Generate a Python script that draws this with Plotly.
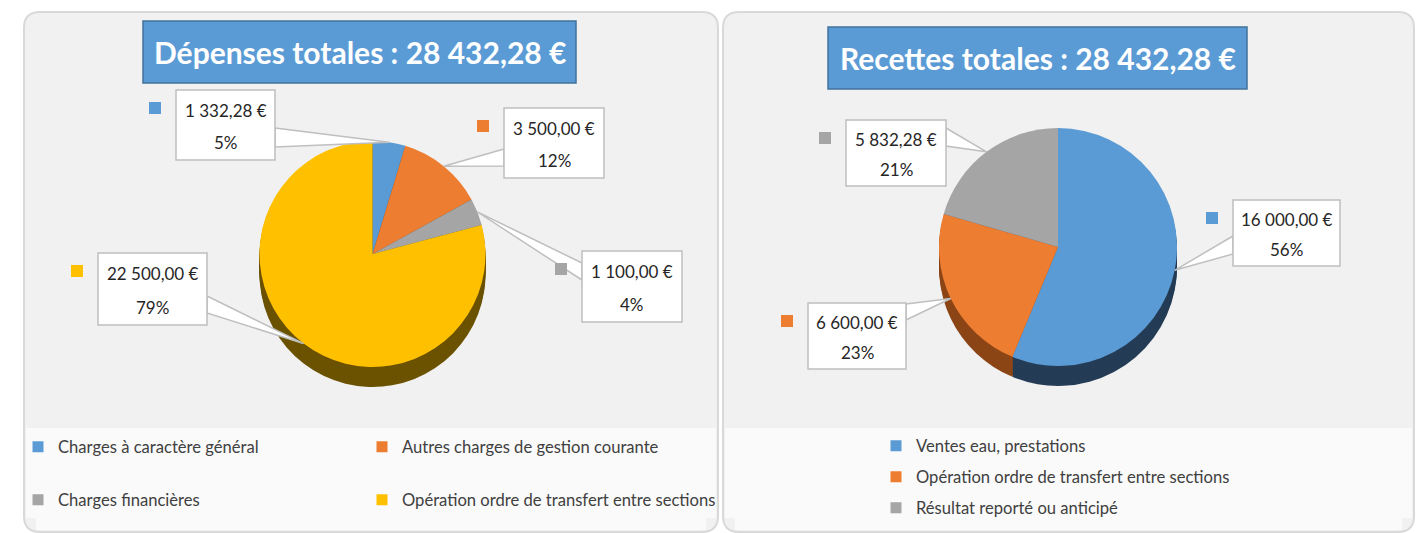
import math
import plotly.graph_objects as go

W, H = 1420, 533

# ---------------- data ----------------
dep_labels = ["Charges à caractère général", "Autres charges de gestion courante",
              "Charges financières", "Opération ordre de transfert entre sections"]
dep_values = [1332.28, 3500.00, 1100.00, 22500.00]
dep_colors = ["#5B9BD5", "#ED7D31", "#A5A5A5", "#FFC000"]
dep_dark = ["#2B4A66", "#7A3E14", "#555555", "#6B5200"]

rec_labels = ["Ventes eau, prestations", "Opération ordre de transfert entre sections",
              "Résultat reporté ou anticipé"]
rec_values = [16000.00, 6600.00, 5832.28]
rec_colors = ["#5B9BD5", "#ED7D31", "#A5A5A5"]
rec_dark = ["#243C55", "#8C4516", "#555555"]

FONT = "Lato, Liberation Sans, sans-serif"
TXT = "#262626"


def px(x):
    return x / W


def py(y):
    return 1 - y / H


def euro(v):
    s = f"{v:,.2f}".replace(",", " ").replace(".", ",")
    return s + " €"


fig = go.Figure()
shapes = []
annotations = []


def rounded_panel(x0, y0, x1, y1, r, fill, line):
    p = (f"M {px(x0 + r)},{py(y0)} L {px(x1 - r)},{py(y0)} "
         f"Q {px(x1)},{py(y0)} {px(x1)},{py(y0 + r)} "
         f"L {px(x1)},{py(y1 - r)} Q {px(x1)},{py(y1)} {px(x1 - r)},{py(y1)} "
         f"L {px(x0 + r)},{py(y1)} Q {px(x0)},{py(y1)} {px(x0)},{py(y1 - r)} "
         f"L {px(x0)},{py(y0 + r)} Q {px(x0)},{py(y0)} {px(x0 + r)},{py(y0)} Z")
    return dict(type="path", path=p, xref="paper", yref="paper",
                fillcolor=fill, line=dict(color=line, width=2), layer="below")


# panels
for (x0, x1) in [(24, 718), (723, 1414)]:
    shapes.append(rounded_panel(x0, 12, x1, 532, 16, "#F1F1F1", "#D9D9D9"))
    shapes.append(dict(type="rect", xref="paper", yref="paper",
                       x0=px(x0 + 2), x1=px(x1 - 2), y0=py(518), y1=py(428),
                       fillcolor="#FAFAFA", line=dict(width=0), layer="below"))
    shapes.append(dict(type="rect", xref="paper", yref="paper",
                       x0=px(x0 + 12), x1=px(x1 - 12), y0=py(530), y1=py(517),
                       fillcolor="#FAFAFA", line=dict(width=0), layer="below"))


def add_pie(values, colors, dark, labels, cx, cy, r, depth, name):
    # 3D side: stack of darker copies shifted downward
    for off in range(depth, 0, -2):
        fig.add_trace(go.Pie(
            values=values, labels=labels, sort=False, direction="clockwise",
            rotation=0, marker=dict(colors=dark), textinfo="none",
            hoverinfo="skip", showlegend=False,
            domain=dict(x=[px(cx - r), px(cx + r)],
                        y=[py(cy + off + r), py(cy + off - r)])))
    fig.add_trace(go.Pie(
        values=values, labels=labels, sort=False, direction="clockwise",
        rotation=0, marker=dict(colors=colors), textinfo="none",
        showlegend=False, name=name,
        domain=dict(x=[px(cx - r), px(cx + r)], y=[py(cy + r), py(cy - r)])))


def slice_points(values, cx, cy, r):
    tot = sum(values)
    pts = []
    acc = 0
    for v in values:
        mid = (acc + v / 2) / tot * 2 * math.pi
        pts.append((cx + r * math.sin(mid), cy - r * math.cos(mid)))
        acc += v
    return pts


def add_label(box, side, wy, tip, value, pct, color):
    x0, y0, x1, y1 = box
    bx = x1 if side == "right" else x0
    tx, ty = tip
    shapes.append(dict(type="path", xref="paper", yref="paper",
                       path=f"M {px(bx)},{py(wy[0])} L {px(tx)},{py(ty)} L {px(bx)},{py(wy[1])} Z",
                       fillcolor="white", line=dict(color="#BFBFBF", width=1.5), layer="above"))
    shapes.append(dict(type="rect", xref="paper", yref="paper",
                       x0=px(x0), x1=px(x1), y0=py(y1), y1=py(y0),
                       fillcolor="white", line=dict(color="#BFBFBF", width=1.5), layer="above"))
    cxb = (x0 + x1) / 2
    hgt = y1 - y0
    for txt, fr in [(value, 0.29), (pct, 0.75)]:
        annotations.append(dict(x=px(cxb), y=py(y0 + hgt * fr), xref="paper", yref="paper",
                                xanchor="center", yanchor="middle",
                                text=txt, showarrow=False,
                                font=dict(family=FONT, size=17, color=TXT)))
    # small colour key square next to the label
    mx, my = x0 - 27, y0 + 12
    shapes.append(dict(type="rect", xref="paper", yref="paper",
                       x0=px(mx), x1=px(mx + 12), y0=py(my + 12), y1=py(my),
                       fillcolor=color, line=dict(width=0), layer="above"))


# ---------------- left pie ----------------
Lcx, Lcy, Lr = 372.5, 254, 113
add_pie(dep_values, dep_colors, dep_dark, dep_labels, Lcx, Lcy, Lr, 20, "Dépenses")
dep_tot = sum(dep_values)
dep_pts = slice_points(dep_values, Lcx, Lcy, Lr)
dep_boxes = [(176, 90, 275, 160), (504, 108, 604, 178), (582, 251, 682, 322), (98, 253, 207, 325)]
dep_sides = ["right", "left", "left", "right"]
dep_wy = [(128, 147), (149, 166), (263, 280), (296, 313)]
for i, v in enumerate(dep_values):
    add_label(dep_boxes[i], dep_sides[i], dep_wy[i], dep_pts[i], euro(v),
              f"{round(v / dep_tot * 100)}%", dep_colors[i])

# ---------------- right pie ----------------
Rcx, Rcy, Rr = 1058, 247, 119
add_pie(rec_values, rec_colors, rec_dark, rec_labels, Rcx, Rcy, Rr, 20, "Recettes")
rec_tot = sum(rec_values)
rec_pts = slice_points(rec_values, Rcx, Rcy, Rr)
rec_boxes = [(1233, 200, 1340, 266), (808, 303, 906, 369), (846, 120, 946, 186)]
rec_sides = ["left", "right", "right"]
rec_wy = [(236, 254), (304, 320), (128, 146)]
for i, v in enumerate(rec_values):
    add_label(rec_boxes[i], rec_sides[i], rec_wy[i], rec_pts[i], euro(v),
              f"{round(v / rec_tot * 100)}%", rec_colors[i])

# ---------------- titles ----------------
titles = [("Dépenses totales : " + euro(dep_tot), (143, 21, 576, 83)),
          ("Recettes totales : " + euro(rec_tot), (828, 27, 1247, 89))]
for t, (x0, y0, x1, y1) in titles:
    shapes.append(dict(type="rect", xref="paper", yref="paper",
                       x0=px(x0), x1=px(x1), y0=py(y1), y1=py(y0),
                       fillcolor="#5B9BD5", line=dict(color="#41719C", width=1.5), layer="above"))
    annotations.append(dict(x=px((x0 + x1) / 2), y=py((y0 + y1) / 2), xref="paper", yref="paper",
                            xanchor="center", yanchor="middle",
                            text=f"<b>{t}</b>", showarrow=False,
                            font=dict(family=FONT, size=30, color="white")))

# ---------------- legends (one dummy key per category) ----------------
legend_specs = [
    (dep_labels[0], dep_colors[0], "legend", 18, 447),
    (dep_labels[1], dep_colors[1], "legend2", 362, 447),
    (dep_labels[2], dep_colors[2], "legend3", 18, 500),
    (dep_labels[3], dep_colors[3], "legend4", 362, 500),
    (rec_labels[0], rec_colors[0], "legend5", 876, 446),
    (rec_labels[1], rec_colors[1], "legend6", 876, 477),
    (rec_labels[2], rec_colors[2], "legend7", 876, 508),
]
for lab, col, lg, _, _ in legend_specs:
    fig.add_trace(go.Scatter(x=[None], y=[None], mode="markers", name=lab,
                             marker=dict(symbol="square", size=11, color=col),
                             legend=lg, hoverinfo="skip"))

leg_common = dict(orientation="h", xanchor="left", yanchor="middle",
                  bgcolor="rgba(0,0,0,0)", font=dict(family=FONT, size=16.6, color="#404040"),
                  itemclick=False, itemdoubleclick=False)
layout_legends = {}
for lab, col, lg, lx, ly in legend_specs:
    layout_legends[lg] = dict(leg_common, x=px(lx), y=py(ly))

fig.update_layout(
    width=W, height=H, margin=dict(l=0, r=0, t=0, b=0),
    paper_bgcolor="white", plot_bgcolor="rgba(0,0,0,0)",
    xaxis=dict(visible=False, range=[0, 1], domain=[0, 1]),
    yaxis=dict(visible=False, range=[0, 1], domain=[0, 1]),
    shapes=shapes, annotations=annotations,
    **layout_legends,
)

fig.write_html("out.html", config=dict(displayModeBar=False),
               post_script="document.body.style.margin='0px';document.body.style.overflow='hidden';")
